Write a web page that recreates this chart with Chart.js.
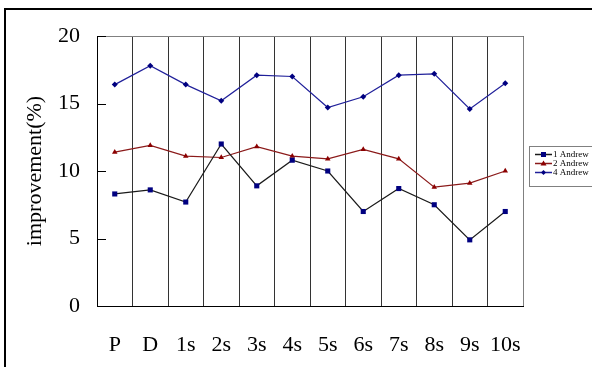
<!DOCTYPE html>
<html>
<head>
<meta charset="utf-8">
<script src="https://cdn.jsdelivr.net/npm/chart.js@4/dist/chart.umd.min.js"></script>
<style>
    html, body { margin: 0; padding: 0; background: #fff; }
    #wrap { width: 592px; height: 367px; position: relative; }
</style>
</head>
<body>
<div id="wrap"><canvas id="improvement-chart"></canvas></div>
<script>
const categories = ['P', 'D', '1s', '2s', '3s', '4s', '5s', '6s', '7s', '8s', '9s', '10s'];
const andrew1 = [8.3, 8.6, 7.7, 12.0, 8.9, 10.8, 10.0, 7.0, 8.7, 7.5, 4.9, 7.0];
const andrew2 = [11.4, 11.9, 11.1, 11.0, 11.8, 11.1, 10.9, 11.6, 10.9, 8.8, 9.1, 10.0];
const andrew4 = [16.4, 17.8, 16.4, 15.2, 17.1, 17.0, 14.7, 15.5, 17.1, 17.2, 14.6, 16.5];
const yTicks = [0, 5, 10, 15, 20];

const serif = "'Liberation Serif', 'Times New Roman', serif";

// outer frame, gray top/right border, inward y ticks and the boxed legend
const decorations = {
    id: 'decorations',
    afterDraw(chart) {
        const ctx = chart.ctx;
        const area = chart.chartArea;
        const yScale = chart.scales.y;
        ctx.save();

        ctx.strokeStyle = '#000';
        ctx.lineWidth = 2;
        ctx.beginPath();
        ctx.moveTo(5, 400);
        ctx.lineTo(5, 9);
        ctx.lineTo(600, 9);
        ctx.stroke();

        ctx.strokeStyle = '#808080';
        ctx.lineWidth = 1;
        ctx.beginPath();
        ctx.moveTo(area.left, Math.round(area.top) + 0.5);
        ctx.lineTo(Math.round(area.right) + 0.5, Math.round(area.top) + 0.5);
        ctx.lineTo(Math.round(area.right) + 0.5, area.bottom);
        ctx.stroke();

        ctx.strokeStyle = '#000';
        ctx.beginPath();
        yTicks.forEach(v => {
            const y = Math.round(yScale.getPixelForValue(v)) + 0.5;
            ctx.moveTo(area.left, y);
            ctx.lineTo(area.left + 9, y);
        });
        ctx.stroke();

        // legend
        ctx.strokeStyle = '#808080';
        ctx.strokeRect(529.5, 146.5, 80, 40);
        ctx.font = "9px " + serif;
        ctx.textBaseline = 'middle';
        chart.data.datasets.forEach((ds, i) => {
            const y = 154.5 + i * 9;
            ctx.strokeStyle = ds.borderColor;
            ctx.lineWidth = 1.5;
            ctx.beginPath();
            ctx.moveTo(535, y);
            ctx.lineTo(552, y);
            ctx.stroke();
            ctx.fillStyle = ds.pointBackgroundColor;
            const cx = 543.5;
            ctx.beginPath();
            if (ds.pointStyle === 'rect') {
                ctx.rect(cx - 2.5, y - 2.5, 5, 5);
            } else if (ds.pointStyle === 'triangle') {
                ctx.moveTo(cx, y - 3);
                ctx.lineTo(cx + 3, y + 2);
                ctx.lineTo(cx - 3, y + 2);
                ctx.closePath();
            } else {
                ctx.moveTo(cx, y - 2.5);
                ctx.lineTo(cx + 2.5, y);
                ctx.lineTo(cx, y + 2.5);
                ctx.lineTo(cx - 2.5, y);
                ctx.closePath();
            }
            ctx.fill();
            ctx.fillStyle = '#000';
            ctx.fillText(ds.label, 553, y + 0.5);
        });
        ctx.restore();
    }
};

new Chart(document.getElementById('improvement-chart').getContext('2d'), {
    type: 'line',
    data: {
        labels: categories,
        datasets: [
            {
                label: '1 Andrew',
                data: andrew1,
                borderColor: '#1a1a1a',
                borderWidth: 1.2,
                pointStyle: 'rect',
                pointRadius: 3.6,
                pointBackgroundColor: '#000080',
                pointBorderColor: '#000080',
                pointBorderWidth: 0
            },
            {
                label: '2 Andrew',
                data: andrew2,
                borderColor: '#8b1a1a',
                borderWidth: 1.2,
                pointStyle: 'triangle',
                pointRadius: 3.2,
                pointBackgroundColor: '#8b0000',
                pointBorderColor: '#8b0000',
                pointBorderWidth: 0
            },
            {
                label: '4 Andrew',
                data: andrew4,
                borderColor: '#20209a',
                borderWidth: 1.2,
                pointStyle: 'rectRot',
                pointRadius: 3,
                pointBackgroundColor: '#000080',
                pointBorderColor: '#000080',
                pointBorderWidth: 0
            }
        ]
    },
    options: {
        responsive: true,
        maintainAspectRatio: false,
        animation: false,
        layout: { padding: { top: 36, right: 69, bottom: 0, left: 0 } },
        plugins: {
            legend: { display: false },
            tooltip: { enabled: false }
        },
        scales: {
            x: {
                offset: true,
                afterFit: s => { s.height = 61; },
                grid: {
                    offset: true,
                    color: '#333',
                    lineWidth: 1,
                    tickLength: 0
                },
                border: { color: '#000', width: 1 },
                ticks: {
                    color: '#000',
                    padding: 26,
                    maxRotation: 0,
                    autoSkip: false,
                    font: { family: serif, size: 22 }
                }
            },
            y: {
                min: 0,
                max: 20,
                afterFit: s => { s.width = 97; },
                afterBuildTicks: s => { s.ticks = yTicks.map(v => ({ value: v })); },
                grid: { drawOnChartArea: false, drawTicks: false, tickLength: 0 },
                border: { color: '#000', width: 1 },
                ticks: {
                    color: '#000',
                    padding: 17,
                    font: { family: serif, size: 22 }
                },
                title: {
                    display: true,
                    text: 'improvement(%)',
                    color: '#000',
                    padding: { top: 22, bottom: 0 },
                    font: { family: serif, size: 22 }
                }
            }
        }
    },
    plugins: [decorations]
});
</script>
</body>
</html>
